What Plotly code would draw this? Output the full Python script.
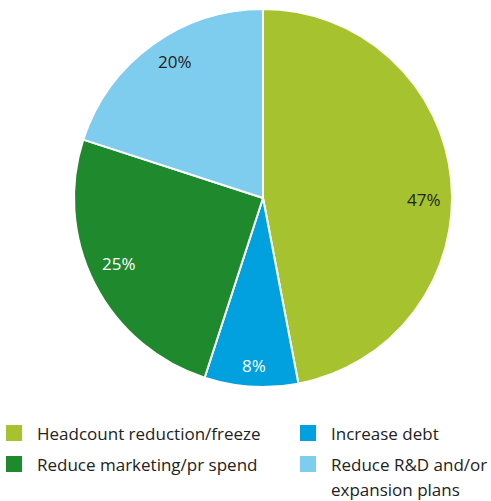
import math
import plotly.graph_objects as go

# ---- data ----
categories = ["Headcount reduction/freeze", "Increase debt",
              "Reduce marketing/pr spend", "Reduce R&D and/or expansion plans"]
values = [47, 8, 25, 20]
legend_lines = [["Headcount reduction/freeze"], ["Increase debt"],
                ["Reduce marketing/pr spend"], ["Reduce R&D and/or", "expansion plans"]]

# ---- style ----
colors = ["#a6c22f", "#00a1de", "#1f8a2d", "#7ecdee"]
label_colors = ["#222222", "#ffffff", "#ffffff", "#222222"]
label_angle_shift = [5.8, -0.5, 2.5, 3.1]   # degrees, label placement tweak
label_radius = [0.85, 0.89, 0.84, 0.86]      # fraction of pie radius
W, H = 491, 501
CX, CY, R = 263, 198, 189
FONT = "Open Sans"

def px(x):
    return x / W

def py(y):
    return 1 - y / H

fig = go.Figure()
fig.add_trace(go.Pie(
    labels=categories, values=values, sort=False, direction="clockwise",
    rotation=0, marker=dict(colors=colors, line=dict(color="white", width=2)),
    textinfo="none", hoverinfo="label+percent", showlegend=False,
    domain=dict(x=[px(CX - R), px(CX + R)], y=[py(CY + R), py(CY - R)]),
))

annotations = []
total = sum(values)
cum = 0
for v, col, da, rf in zip(values, label_colors, label_angle_shift, label_radius):
    mid = math.radians((cum + v / 2) / total * 360 + da)
    cum += v
    rr = rf * R
    x = CX + rr * math.sin(mid)
    y = CY - rr * math.cos(mid)
    annotations.append(dict(x=px(x), y=py(y), xref="paper", yref="paper",
                            text=f"{round(v / total * 100)}%", showarrow=False,
                            font=dict(family=FONT, size=17, color=col),
                            xanchor="center", yanchor="middle"))

# custom legend (2 columns)
shapes = []
col_x = [6, 300]
row_y = [433, 464]
line_gap = 25
for i, (lines, c) in enumerate(zip(legend_lines, colors)):
    cx0 = col_x[i % 2]
    ry = row_y[i // 2]
    shapes.append(dict(type="rect", xref="paper", yref="paper",
                       x0=px(cx0), x1=px(cx0 + 16), y0=py(ry + 8), y1=py(ry - 8),
                       fillcolor=c, line=dict(width=0)))
    for j, t in enumerate(lines):
        annotations.append(dict(x=px(cx0 + 29), y=py(ry + j * line_gap),
                                xref="paper", yref="paper", text=t, showarrow=False,
                                font=dict(family=FONT, size=17, color="#222222"),
                                xanchor="left", yanchor="middle"))

fig.update_layout(width=W, height=H, margin=dict(l=0, r=0, t=0, b=0),
                  paper_bgcolor="white", plot_bgcolor="white",
                  annotations=annotations, shapes=shapes)
fig.write_html("out.html")
